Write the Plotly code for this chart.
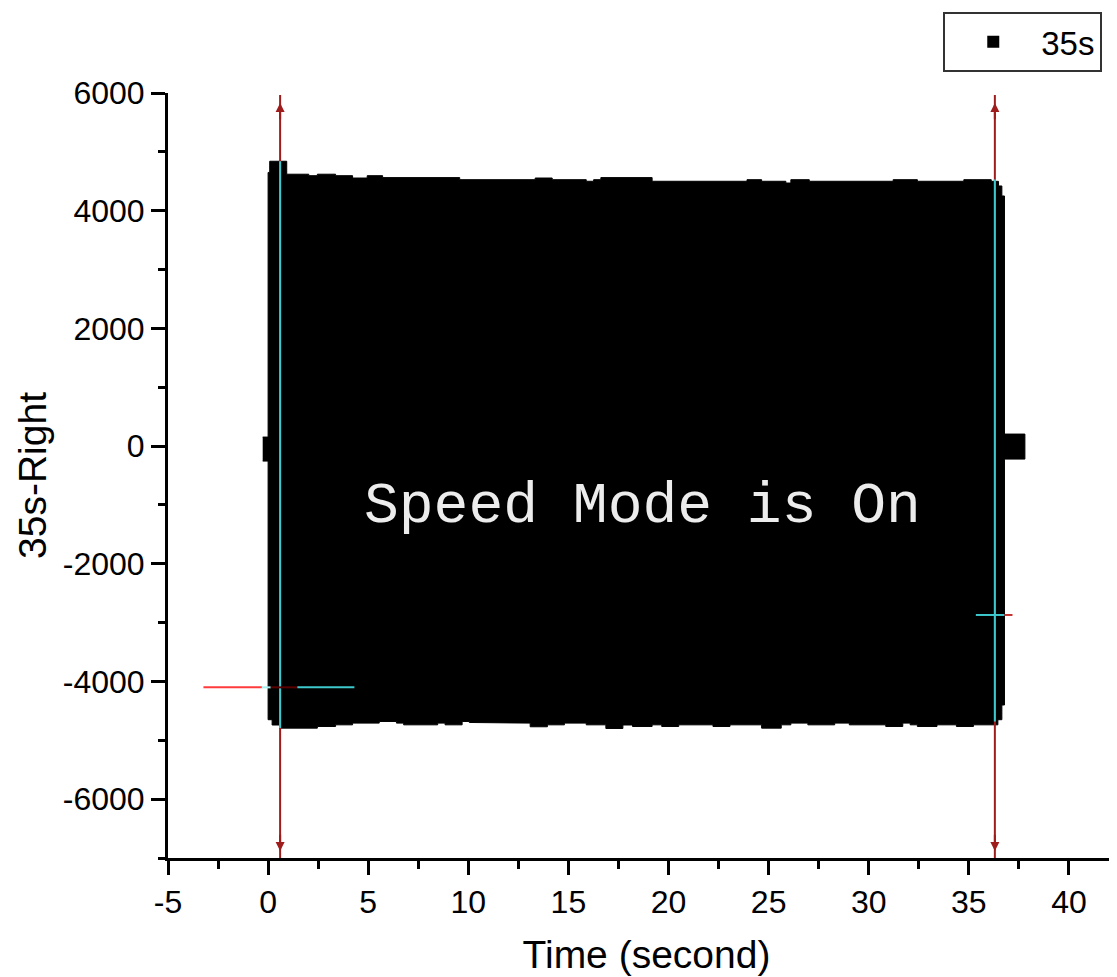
import plotly.graph_objects as go

# ---------------- data ----------------
# Envelope of the dense oscillating signal "35s" (step segments)
TOP_EDGES = [-0.27, 0.0, 0.08, 0.93, 2.03, 2.46, 3.37, 4.22, 4.95, 5.72, 9.57, 13.34, 14.19,
             15.89, 16.26, 16.62, 19.18, 23.92, 24.65, 25.86, 26.11, 27.03, 31.22, 32.43,
             34.75, 36.12, 36.48, 36.65, 36.78, 37.8]
TOP_VALUES = [153, 4650, 4840, 4620, 4595, 4620, 4595, 4555, 4595, 4562, 4527, 4555, 4527,
              4500, 4527, 4562, 4500, 4527, 4500, 4470, 4527, 4500, 4527, 4500, 4527, 4499,
              4420, 4250, 204]

BOT_EDGES = [-0.27, 0.0, 0.2, 0.57, 2.46, 3.37, 4.22, 5.55, 6.41, 6.77, 8.47, 8.84, 9.69,
             10.05, 12.12, 13.09, 13.95, 14.80, 15.89, 16.87, 17.72, 18.20, 19.18, 19.66,
             20.51, 22.22, 23.07, 24.65, 25.63, 26.11, 26.96, 28.30, 29.03, 30.85, 31.70,
             32.07, 32.43, 33.41, 34.38, 35.23, 36.45, 36.65, 36.78, 37.8]
BOT_VALUES = [-255, -4650, -4740, -4793, -4765, -4737, -4708, -4680, -4708, -4737, -4708,
              -4737, -4680, -4697, -4708, -4770, -4737, -4708, -4737, -4799, -4740, -4765,
              -4737, -4765, -4737, -4765, -4737, -4793, -4737, -4708, -4737, -4708, -4737,
              -4765, -4708, -4737, -4765, -4737, -4765, -4737, -4650, -4400, -221]

SERIES_NAME = "35s"

# Vertical cursor lines (x positions) and their extents
CURSOR_X = [0.6, 36.3]
RED_CURSOR_Y = [-7000, 5966]
CYAN_CURSOR_Y = [[4840, -4790], [4530, -4680]]
ARROW_UP_Y = 5830
ARROW_DOWN_Y = -6880

# Horizontal cursor pieces: (x0, x1, y, colour)
H_CURSOR = [
    (-3.23, -0.31, -4100, "#ff3b3b"),
    (-0.31, 0.13, -4100, "#a8f0f0"),
    (0.13, 1.46, -4100, "#5a0000"),
    (1.46, 4.31, -4100, "#3cc8cc"),
    (35.35, 36.78, -2870, "#3cc8cc"),
    (36.78, 37.18, -2870, "#c83030"),
]

X_RANGE = [-5, 42.8]
Y_RANGE = [-7000, 6000]
X_TICKS = [-5, 0, 5, 10, 15, 20, 25, 30, 35, 40]
Y_TICKS = [-6000, -4000, -2000, 0, 2000, 4000, 6000]

OVERLAY_TEXT = "Speed Mode is On"
OVERLAY_POS = (18.68, -1020)


def step_path(edges, values):
    xs, ys = [], []
    for i, v in enumerate(values):
        xs += [edges[i], edges[i + 1]]
        ys += [v, v]
    return xs, ys


tx, ty = step_path(TOP_EDGES, TOP_VALUES)
bx, by = step_path(BOT_EDGES, BOT_VALUES)
poly_x = tx + bx[::-1]
poly_y = ty + by[::-1]

fig = go.Figure()

fig.add_trace(go.Scatter(
    x=poly_x, y=poly_y, mode="lines", fill="toself", fillcolor="black",
    line=dict(color="black", width=1), showlegend=False, hoverinfo="skip"))

# legend entry
fig.add_trace(go.Scatter(
    x=[None], y=[None], mode="markers", name=SERIES_NAME,
    marker=dict(symbol="square", size=15, color="black")))

# red vertical cursor lines
for cx in CURSOR_X:
    fig.add_trace(go.Scatter(
        x=[cx, cx], y=RED_CURSOR_Y, mode="lines",
        line=dict(color="#9e1c1c", width=2), showlegend=False, hoverinfo="skip"))

# cyan vertical cursor lines
for cx, cy in zip(CURSOR_X, CYAN_CURSOR_Y):
    fig.add_trace(go.Scatter(
        x=[cx, cx], y=cy, mode="lines",
        line=dict(color="#3cc8cc", width=2), showlegend=False, hoverinfo="skip"))

# horizontal cursor pieces
for x0, x1, yy, col in H_CURSOR:
    fig.add_trace(go.Scatter(
        x=[x0, x1], y=[yy, yy], mode="lines",
        line=dict(color=col, width=2), showlegend=False, hoverinfo="skip"))

annotations = []
for cx in CURSOR_X:
    annotations.append(dict(x=cx, y=ARROW_UP_Y, ax=cx, ay=ARROW_UP_Y - 300,
                            xref="x", yref="y", axref="x", ayref="y", text="",
                            showarrow=True, arrowhead=2, arrowsize=0.9, arrowwidth=2,
                            arrowcolor="#9e1c1c"))
    annotations.append(dict(x=cx, y=ARROW_DOWN_Y, ax=cx, ay=ARROW_DOWN_Y + 300,
                            xref="x", yref="y", axref="x", ayref="y", text="",
                            showarrow=True, arrowhead=2, arrowsize=0.9, arrowwidth=2,
                            arrowcolor="#9e1c1c"))
annotations.append(dict(x=OVERLAY_POS[0], y=OVERLAY_POS[1], xref="x", yref="y",
                        text=OVERLAY_TEXT, showarrow=False,
                        font=dict(family="Courier New, Liberation Mono, monospace",
                                  size=58, color="#ececec")))

axis_font = dict(family="Arial, Liberation Sans, sans-serif", size=32, color="black")
title_font = dict(family="Arial, Liberation Sans, sans-serif", size=39, color="black")

# the page body adds an 8px offset, so margins are reduced accordingly
fig.update_layout(
    width=1117, height=977,
    margin=dict(l=160, r=0, t=85, b=127, pad=0, autoexpand=False),
    paper_bgcolor="white", plot_bgcolor="white",
    annotations=annotations,
    showlegend=True,
    legend=dict(x=0.8101, y=1.106, xanchor="left", yanchor="top",
                bgcolor="white", bordercolor="#333333", borderwidth=2,
                font=dict(family="Arial, Liberation Sans, sans-serif", size=33, color="black"),
                itemwidth=86, itemsizing="constant"),
    xaxis=dict(range=X_RANGE, tickvals=X_TICKS, ticktext=[str(v) for v in X_TICKS],
               ticks="outside", ticklen=14, tickwidth=3,
               tickcolor="black", showline=True, linecolor="black", linewidth=3,
               showgrid=False, zeroline=False, tickfont=axis_font, automargin=False,
               minor=dict(dtick=2.5, tick0=-5, ticks="outside", ticklen=8, tickwidth=3,
                          tickcolor="black", showgrid=False),
               title=dict(text="Time (second)", font=title_font, standoff=22)),
    yaxis=dict(range=Y_RANGE, tickvals=Y_TICKS, ticktext=[str(v) for v in Y_TICKS],
               ticks="outside", ticklen=14, tickwidth=3,
               tickcolor="black", showline=True, linecolor="black", linewidth=3,
               showgrid=False, zeroline=False, tickfont=axis_font, automargin=False,
               minor=dict(dtick=1000, tick0=0, ticks="outside", ticklen=7, tickwidth=3,
                          tickcolor="black", showgrid=False),
               title=dict(text="35s-Right", font=title_font, standoff=5)),
)

fig.write_html("out.html")
